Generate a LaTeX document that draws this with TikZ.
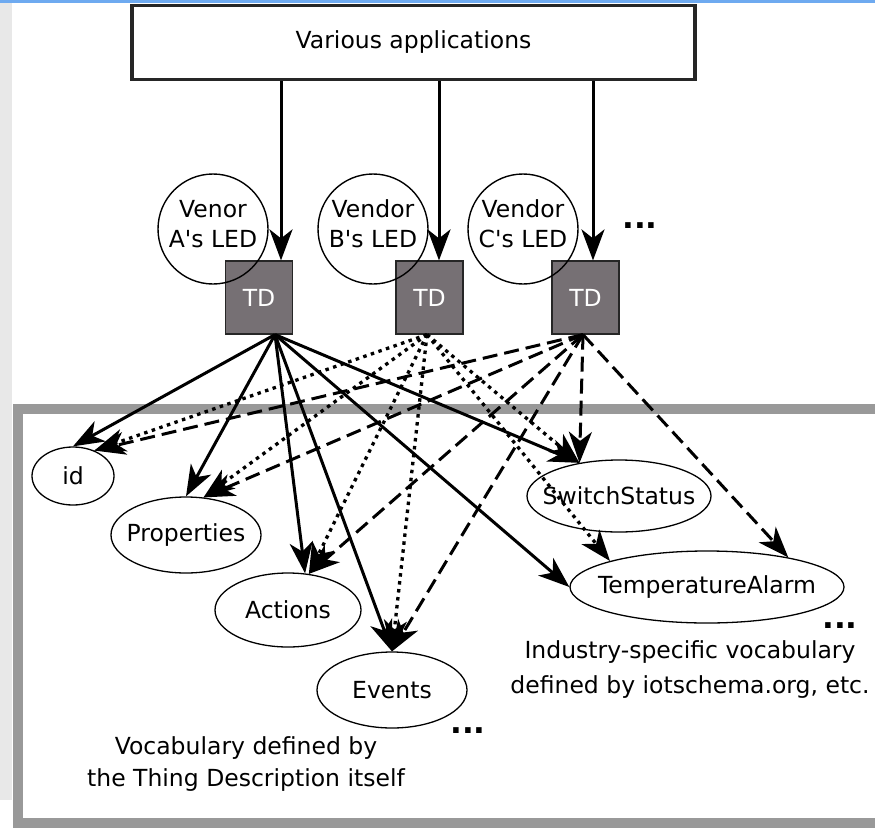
\documentclass[tikz,border=0pt]{standalone}
\usepackage{fontspec}
\setmainfont{DejaVu Sans}
\usetikzlibrary{arrows.meta, shapes.geometric}
\definecolor{tdgray}{RGB}{118,112,116}
\definecolor{framegray}{RGB}{153,153,153}
\definecolor{topblue}{RGB}{110,170,240}
\definecolor{stripgray}{RGB}{232,232,232}

\begin{document}
\begin{tikzpicture}[x=1pt, y=-1pt, font=\fontsize{23.5}{30}\selectfont,
    tdbox/.style={draw=black!85, line width=1.2pt, fill=tdgray, text=white,
        minimum width=67pt, minimum height=73pt, inner sep=0pt},
    vendor/.style={circle, draw, line width=1.4pt, minimum size=110pt, inner sep=0pt},
    vendortext/.style={align=center, yshift=5pt},
    term/.style={ellipse, draw, line width=1.3pt, inner sep=0pt},
    link/.style={line width=3pt, -{Stealth[length=31pt, width=23pt, inset=9pt]}},
    dotlink/.style={link, line width=3.3pt, dash pattern=on 3.5pt off 4.5pt},
    dashlink/.style={link, dash pattern=on 15pt off 7pt},
    more/.style={font=\fontsize{31}{31}\selectfont\bfseries}]

    % screen edges
    \fill[white] (0,0) rectangle (875,827);
    \fill[stripgray] (0,3) rectangle (12,800);
    \fill[topblue] (0,0) rectangle (875,2.5);
    \useasboundingbox (0,0) rectangle (875,827);

    % vocabulary frame
    \draw[framegray, line width=10pt] (17.5,409) rectangle (880,822.5);

    \node[draw=black!85, line width=3.5pt, minimum width=563pt,
        minimum height=74pt] (apps) at (413.5,42.5) {Various applications};

    \node[tdbox] (tdA) at (259,297.5) {TD};
    \node[tdbox] (tdB) at (429.5,297.5) {TD};
    \node[tdbox] (tdC) at (585.5,297.5) {TD};

    \node[vendor, label={[vendortext]center:{Venor\\A\textquotesingle s LED}}] (ledA) at (213,229) {};
    \node[vendor, label={[vendortext]center:{Vendor\\B\textquotesingle s LED}}] (ledB) at (373,229) {};
    \node[vendor, label={[vendortext]center:{Vendor\\C\textquotesingle s LED}}] (ledC) at (523,229) {};
    \node[more] (dotsC) at (640,226) {...};

    \draw[link] ([xshift=22pt]tdA.north |- apps.south) -- ([xshift=22pt]tdA.north);
    \draw[link] ([xshift=9.5pt]tdB.north |- apps.south) -- ([xshift=9.5pt]tdB.north);
    \draw[link] ([xshift=7.5pt]tdC.north |- apps.south) -- ([xshift=7.5pt]tdC.north);

    % vocabulary terms
    \node[term, minimum width=82pt, minimum height=58pt, label=center:id] (id) at (73,476) {};
    \node[term, minimum width=150pt, minimum height=76pt, label=center:Properties] (prop) at (186,535) {};
    \node[term, minimum width=146pt, minimum height=74pt, label=center:Actions] (act) at (288,610) {};
    \node[term, minimum width=150pt, minimum height=76pt, label=center:Events] (ev) at (392,690) {};
    \node[term, minimum width=184pt, minimum height=72pt, label=center:SwitchStatus] (sw) at (619,496) {};
    \node[term, minimum width=274pt, minimum height=72pt, label=center:TemperatureAlarm] (ta) at (707,587) {};

    \coordinate (srcA) at ([xshift=16pt]tdA.south);
    \coordinate (srcB) at ([xshift=-2.5pt]tdB.south);
    \coordinate (srcC) at ([xshift=-2.5pt]tdC.south);

    % vendor A
    \path[link]
        (srcA) edge (id.north)
        (srcA) edge (prop.north)
        (srcA) edge (act.65)
        (srcA) edge (ev.north)
        (srcA) edge (sw.140)
        (srcA) edge (ta.west);
    % vendor B
    \path[dotlink]
        (srcB) edge (id.50)
        (srcB) edge (prop.65)
        (srcB) edge (act.60)
        (srcB) edge (ev.north)
        (srcB) edge (sw.140)
        (srcB) edge (ta.165);
    % vendor C
    \path[dashlink]
        (srcC) edge (id.50)
        (srcC) edge (prop.65)
        (srcC) edge (act.60)
        (srcC) edge (ev.north)
        (srcC) edge (sw.140)
        (srcC) edge (ta.20);

    \node[more] (dotsEv) at (468,731) {...};
    \node[more] (dotsTa) at (840,626) {...};
    \node[align=center, font=\fontsize{23.5}{32}\selectfont] (tdvocab) at (246,764)
        {Vocabulary defined by\\the Thing Description itself};
    \node[align=center, font=\fontsize{23.5}{35}\selectfont] (indvocab) at (690,670)
        {Industry-specific vocabulary\\defined by iotschema.org, etc.};
\end{tikzpicture}
\end{document}
